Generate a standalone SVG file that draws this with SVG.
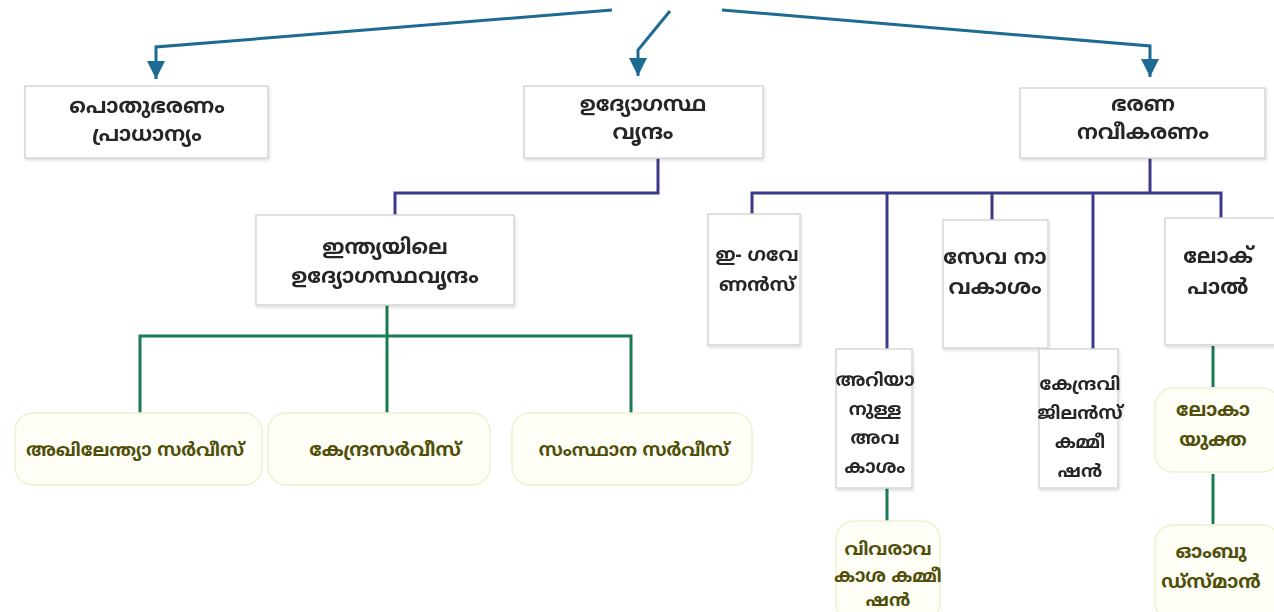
<svg xmlns="http://www.w3.org/2000/svg" width="1274" height="612" viewBox="0 0 1274 612">
<style>
text{font-family:"Noto Sans Malayalam","Noto Sans","Liberation Sans",sans-serif;font-weight:bold;font-size:21px;text-anchor:middle}
.sm{font-size:18px}
.md{font-size:19px}
.gb{fill:#ffffff;stroke:#d6d6d6;stroke-width:1.5}
.gt{fill:#262626}
.yb{fill:#fefef7;stroke:#eef1cf;stroke-width:1.5}
.yt{fill:#4f4f08}
.arr{fill:none;stroke:#1d6b92;stroke-width:3}
.nav{fill:none;stroke:#3b3a8a;stroke-width:3}
.grn{fill:none;stroke:#1a7a52;stroke-width:3}
</style>
<defs>
<marker id="ah" viewBox="0 0 18 18" refX="18" refY="9" markerWidth="18" markerHeight="18" markerUnits="userSpaceOnUse" orient="auto">
<path d="M0,0 L18,9 L0,18 z" fill="#1d6b92"/>
</marker>
<filter id="sh" x="-10%" y="-10%" width="130%" height="130%">
<feDropShadow dx="1" dy="2" stdDeviation="1.5" flood-color="#000" flood-opacity="0.12"/>
</filter>
</defs>
<rect width="1274" height="612" fill="#ffffff"/>
<g id="connectors">
<path class="arr" d="M612 10 L156 47 L156 79" marker-end="url(#ah)"/>
<path class="arr" d="M670 11 L638 50 L638 76" marker-end="url(#ah)"/>
<path class="arr" d="M722 10 L1150 46 L1150 77" marker-end="url(#ah)"/>
<path class="nav" d="M658 158 V193 H395 V215"/>
<path class="nav" d="M1150 158 V193"/>
<path class="nav" d="M752 214 V193 H1221 V218"/>
<path class="nav" d="M887 193 V349"/>
<path class="nav" d="M992 193 V220"/>
<path class="nav" d="M1093 193 V349"/>
<path class="grn" d="M387 305 V413"/>
<path class="grn" d="M140 413 V336 H631 V413"/>
<path class="grn" d="M887 488 V521"/>
<path class="grn" d="M1213 346 V387"/>
<path class="grn" d="M1213 474 V524"/>
</g>
<g id="n1" filter="url(#sh)"><rect class="gb" x="25" y="86" width="243" height="72"/>
<text class="gt" x="147" y="113">പൊതുഭരണം</text><text class="gt" x="147" y="141">പ്രാധാന്യം</text></g>
<g id="n2" filter="url(#sh)"><rect class="gb" x="524" y="86" width="239" height="72"/>
<text class="gt" x="643" y="111">ഉദ്യോഗസ്ഥ</text><text class="gt" x="643" y="139">വൃന്ദം</text></g>
<g id="n3" filter="url(#sh)"><rect class="gb" x="1020" y="88" width="245" height="70"/>
<text class="gt" x="1143" y="111">ഭരണ</text><text class="gt" x="1143" y="139">നവീകരണം</text></g>
<g id="n4" filter="url(#sh)"><rect class="gb" x="256" y="215" width="258" height="90"/>
<text class="gt" x="385" y="254">ഇന്ത്യയിലെ</text><text class="gt" x="385" y="283">ഉദ്യോഗസ്ഥവൃന്ദം</text></g>
<g id="n5" filter="url(#sh)"><rect class="gb" x="708" y="214" width="92" height="131"/>
<text class="gt md" x="757" y="261">ഇ- ഗവേ</text><text class="gt md" x="757" y="291">ണൻസ്</text></g>
<g id="n6" filter="url(#sh)"><rect class="gb" x="943" y="220" width="105" height="128"/>
<text class="gt" x="995" y="264">സേവ നാ</text><text class="gt" x="995" y="294">വകാശം</text></g>
<g id="n7" filter="url(#sh)"><rect class="gb" x="1165" y="218" width="112" height="127"/>
<text class="gt" x="1218" y="263">ലോക്</text><text class="gt" x="1218" y="294">പാൽ</text></g>
<g id="n8" filter="url(#sh)"><rect class="gb" x="836" y="349" width="76" height="139"/>
<text class="gt sm" x="875" y="386">അറിയാ</text><text class="gt sm" x="875" y="415">നുള്ള</text><text class="gt sm" x="875" y="444">അവ</text><text class="gt sm" x="875" y="473">കാശം</text></g>
<g id="n9" filter="url(#sh)"><rect class="gb" x="1039" y="349" width="79" height="139"/>
<text class="gt sm" x="1080" y="390">കേന്ദ്രവി</text><text class="gt sm" x="1080" y="419">ജിലൻസ്</text><text class="gt sm" x="1080" y="448">കമ്മീ</text><text class="gt sm" x="1080" y="477">ഷൻ</text></g>
<g id="n10"><rect class="yb" x="15" y="413" width="247" height="72" rx="18"/>
<text class="yt sm" x="135" y="456">അഖിലേന്ത്യാ സർവീസ്</text></g>
<g id="n11"><rect class="yb" x="268" y="413" width="222" height="72" rx="18"/>
<text class="yt md" x="385" y="456">കേന്ദ്രസർവീസ്</text></g>
<g id="n12"><rect class="yb" x="512" y="413" width="240" height="72" rx="18"/>
<text class="yt sm" x="634" y="456">സംസ്ഥാന സർവീസ്</text></g>
<g id="n13"><rect class="yb" x="1155" y="388" width="125" height="84" rx="18"/>
<text class="yt md" x="1213" y="416">ലോകാ</text><text class="yt md" x="1213" y="446">യുക്ത</text></g>
<g id="n14"><rect class="yb" x="1155" y="525" width="125" height="95" rx="18"/>
<text class="yt md" x="1211" y="558">ഓംബു</text><text class="yt md" x="1211" y="588">ഡ്സ്മാൻ</text></g>
<g id="n15"><rect class="yb" x="836" y="521" width="104" height="100" rx="18"/>
<text class="yt sm" x="888" y="555">വിവരാവ</text><text class="yt sm" x="888" y="582">കാശ കമ്മീ</text><text class="yt sm" x="888" y="606">ഷൻ</text></g>
</svg>
